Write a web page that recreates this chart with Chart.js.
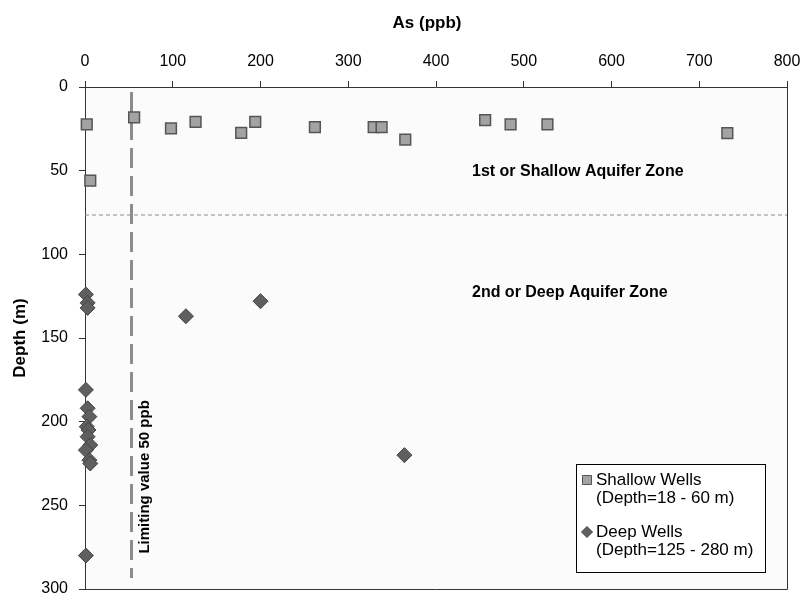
<!DOCTYPE html>
<html>
<head>
<meta charset="utf-8">
<script src="https://cdn.jsdelivr.net/npm/chart.js@4"></script>
<style>
  html, body { margin: 0; padding: 0; background: #fff; }
  #wrap { width: 803px; height: 594px; }
</style>
</head>
<body>
<div id="wrap"><canvas id="asChart" width="803" height="594"></canvas></div>
<script>
// Shallow wells (As ppb, depth m)
const shallowAs    = [2, 56, 98, 126, 178, 194, 262, 329, 338, 365, 456, 485, 527, 732, 6];
const shallowDepth = [22.4, 18.2, 24.8, 20.8, 27.4, 20.8, 24, 24, 24, 31.4, 19.8, 22.4, 22.4, 27.6, 56];

// Deep wells
const deepAs    = [1, 3, 3, 115, 200, 1, 3, 5, 2, 4, 3, 6, 1, 5, 6, 364, 1];
const deepDepth = [124, 129, 132, 137, 128, 181, 192, 197, 203, 205, 209, 214, 217, 223, 225, 220, 280];

// reference lines
const limitAs = [53, 53];
const limitDepth = [3, 293.5];
const zoneAs = [0, 800];
const zoneDepth = [76.5, 76.5];

const xTicks = [0, 100, 200, 300, 400, 500, 600, 700, 800];
const yTicks = [0, 50, 100, 150, 200, 250, 300];

const legendLabels = [['Shallow Wells', '(Depth=18 - 60 m)'], ['Deep Wells', '(Depth=125 - 280 m)']];

// text notes in data coords
const notes = [
    { text: '1st or Shallow Aquifer Zone', x: 441, y: 50.8, rot: 0 },
    { text: '2nd or Deep Aquifer Zone', x: 441, y: 123, rot: 0 },
    { text: 'Limiting value 50 ppb', x: 68.4, y: 233, rot: -Math.PI / 2 }
];

const toPts = (xs, ys) => xs.map((v, i) => ({ x: v, y: ys[i] }));

const FONT = 'Arial, "Liberation Sans", sans-serif';
const PLOT_TOP = 87, PLOT_BOTTOM_GAP = 5, PLOT_LEFT = 85, PLOT_RIGHT_GAP = 16;

// kill the label overhang padding so the plot box lands where we want
function noPad(s) {
    s.paddingLeft = 0;
    s.paddingRight = 0;
    s.paddingTop = 0;
    s.paddingBottom = 0;
}

const plotBg = {
    id: 'plotBg',
    beforeDraw(chart) {
        const { ctx, chartArea: a } = chart;
        ctx.save();
        ctx.fillStyle = '#fbfbfb';
        ctx.fillRect(a.left, a.top, a.right - a.left, a.bottom - a.top);
        ctx.restore();
    },
    afterDraw(chart) {
        const { ctx, chartArea: a, scales } = chart;
        ctx.save();
        // right + bottom frame
        ctx.strokeStyle = '#333';
        ctx.lineWidth = 1;
        ctx.beginPath();
        ctx.moveTo(Math.round(a.right) + 0.5, a.top);
        ctx.lineTo(Math.round(a.right) + 0.5, Math.round(a.bottom) + 0.5);
        ctx.lineTo(a.left, Math.round(a.bottom) + 0.5);
        ctx.stroke();

        // x title
        ctx.fillStyle = '#000';
        ctx.font = 'bold 17px ' + FONT;
        ctx.textAlign = 'center';
        ctx.textBaseline = 'middle';
        ctx.fillText('As (ppb)', 427, 23);

        // notes
        ctx.font = 'bold 16px ' + FONT;
        notes.forEach(n => {
            const px = scales.x.getPixelForValue(n.x);
            const py = scales.y.getPixelForValue(n.y);
            ctx.save();
            ctx.translate(px, py);
            ctx.rotate(n.rot);
            if (n.rot) {
                ctx.font = 'bold 15px ' + FONT;
                ctx.textAlign = 'center';
            } else {
                ctx.textAlign = 'left';
            }
            ctx.textBaseline = 'middle';
            ctx.fillText(n.text, 0, 0);
            ctx.restore();
        });

        // legend box
        const bx = 576.5, by = 464.5, bw = 189, bh = 108;
        ctx.fillStyle = '#fff';
        ctx.fillRect(bx, by, bw, bh);
        ctx.strokeStyle = '#000';
        ctx.strokeRect(bx, by, bw, bh);
        ctx.font = '17px ' + FONT;
        ctx.textAlign = 'left';
        ctx.textBaseline = 'middle';
        const rows = [480, 532];
        legendLabels.forEach((lines, i) => {
            const ds = chart.data.datasets[i];
            const mx = 587, my = rows[i];
            ctx.fillStyle = ds.backgroundColor;
            ctx.strokeStyle = ds.borderColor;
            ctx.lineWidth = 1;
            ctx.beginPath();
            if (ds.pointStyle === 'rect') {
                ctx.rect(mx - 4.5, my - 4.5, 9, 9);
            } else {
                ctx.moveTo(mx, my - 5.5);
                ctx.lineTo(mx + 5.5, my);
                ctx.lineTo(mx, my + 5.5);
                ctx.lineTo(mx - 5.5, my);
                ctx.closePath();
            }
            ctx.fill();
            ctx.stroke();
            ctx.fillStyle = '#000';
            lines.forEach((t, k) => ctx.fillText(t, 596, my + k * 18));
        });
        ctx.restore();
    }
};

new Chart(document.getElementById('asChart').getContext('2d'), {
    type: 'scatter',
    data: {
        datasets: [
            {
                label: legendLabels[0].join(' '),
                data: toPts(shallowAs, shallowDepth),
                pointStyle: 'rect',
                pointRadius: 7.6,
                backgroundColor: '#a3a3a3',
                borderColor: '#555555',
                borderWidth: 1.5,
                clip: false
            },
            {
                label: legendLabels[1].join(' '),
                data: toPts(deepAs, deepDepth),
                pointStyle: 'rectRot',
                pointRadius: 7.5,
                backgroundColor: '#5f5f5f',
                borderColor: '#454545',
                borderWidth: 1,
                clip: false
            },
            {
                label: 'limit',
                data: toPts(limitAs, limitDepth),
                showLine: true,
                pointRadius: 0,
                borderColor: '#8c8c8c',
                borderWidth: 3,
                borderDash: [20, 8]
            },
            {
                label: 'zone',
                data: toPts(zoneAs, zoneDepth),
                showLine: true,
                pointRadius: 0,
                borderColor: '#8c8c8c',
                borderWidth: 1,
                borderDash: [4, 3]
            }
        ]
    },
    options: {
        responsive: false,
        animation: false,
        devicePixelRatio: 1,
        layout: {
            autoPadding: false,
            padding: { left: 0, top: 0, right: PLOT_RIGHT_GAP, bottom: PLOT_BOTTOM_GAP }
        },
        plugins: {
            legend: { display: false },
            tooltip: { enabled: false }
        },
        scales: {
            x: {
                type: 'linear',
                position: 'top',
                min: 0,
                max: 800,
                afterBuildTicks: s => { s.ticks = xTicks.map(v => ({ value: v })); },
                afterFit: s => { noPad(s); s.height = PLOT_TOP; },
                ticks: { color: '#000', font: { size: 16, family: FONT }, padding: 10, maxRotation: 0 },
                grid: { drawOnChartArea: false, drawTicks: true, tickLength: 6, color: '#333' },
                border: { color: '#333', width: 1 }
            },
            y: {
                type: 'linear',
                reverse: true,
                min: 0,
                max: 300,
                afterBuildTicks: s => { s.ticks = yTicks.map(v => ({ value: v })); },
                afterFit: s => { noPad(s); s.width = PLOT_LEFT; },
                ticks: { color: '#000', font: { size: 16, family: FONT }, padding: 11 },
                grid: { drawOnChartArea: false, drawTicks: true, tickLength: 6, color: '#333' },
                border: { color: '#333', width: 1 },
                title: {
                    display: true,
                    text: 'Depth (m)',
                    color: '#000',
                    font: { size: 17, weight: 'bold', family: FONT },
                    padding: { top: 10, bottom: 0 }
                }
            }
        }
    },
    plugins: [plotBg]
});
</script>
</body>
</html>
